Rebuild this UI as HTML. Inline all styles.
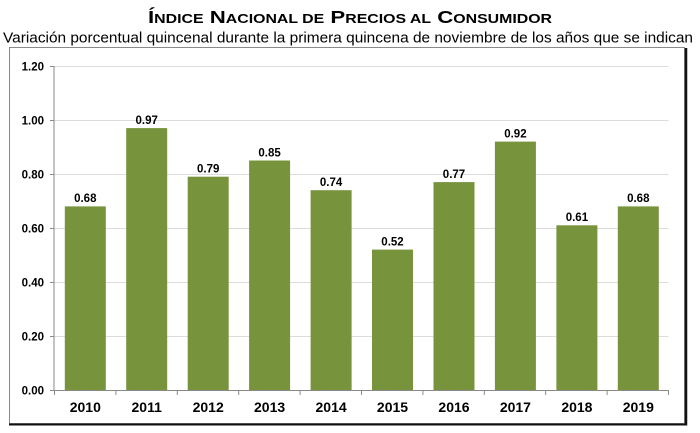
<!DOCTYPE html>
<html><head><meta charset="utf-8"><style>
html,body{margin:0;padding:0;background:#fff;}
svg{display:block;}
text{font-family:"Liberation Sans",Arial,sans-serif;fill:#000;}
</style></head><body>
<svg width="700" height="433" viewBox="0 0 700 433" xmlns="http://www.w3.org/2000/svg">
<rect x="0" y="0" width="700" height="433" fill="#fff"/>
<text x="350" y="23" text-anchor="middle" font-weight="bold" font-size="17.5" textLength="404" lengthAdjust="spacingAndGlyphs">Í<tspan font-size="12.5">NDICE</tspan> N<tspan font-size="12.5">ACIONAL DE</tspan> P<tspan font-size="12.5">RECIOS AL</tspan> C<tspan font-size="12.5">ONSUMIDOR</tspan></text>
<text x="348" y="42.5" text-anchor="middle" font-size="15.2" textLength="690" lengthAdjust="spacingAndGlyphs">Variación porcentual quincenal durante la primera quincena de noviembre de los años que se indican</text>
<!-- frame -->
<rect x="9.5" y="47.5" width="675" height="376" fill="none" stroke="#8a8a8a" stroke-width="1"/>
<line x1="686" y1="48" x2="686" y2="425.5" stroke="#111" stroke-width="2.5"/>
<line x1="9" y1="424.5" x2="687" y2="424.5" stroke="#111" stroke-width="2"/>
<!-- gridlines -->
<g stroke="#dcdcdc" stroke-width="1">
<line x1="54" y1="66.5" x2="668.5" y2="66.5"/>
<line x1="54" y1="120.5" x2="668.5" y2="120.5"/>
<line x1="54" y1="174.5" x2="668.5" y2="174.5"/>
<line x1="54" y1="228.5" x2="668.5" y2="228.5"/>
<line x1="54" y1="282.5" x2="668.5" y2="282.5"/>
<line x1="54" y1="336.5" x2="668.5" y2="336.5"/>
</g>
<!-- bars -->
<g fill="#77933c">
<rect x="64.8" y="206.4" width="41" height="183.6"/>
<rect x="126.2" y="128.1" width="41" height="261.9"/>
<rect x="187.7" y="176.7" width="41" height="213.3"/>
<rect x="249.1" y="160.5" width="41" height="229.5"/>
<rect x="310.6" y="190.2" width="41" height="199.8"/>
<rect x="372.0" y="249.6" width="41" height="140.4"/>
<rect x="433.5" y="182.1" width="41" height="207.9"/>
<rect x="494.9" y="141.6" width="41" height="248.4"/>
<rect x="556.4" y="225.3" width="41" height="164.7"/>
<rect x="617.8" y="206.4" width="41" height="183.6"/>
</g>
<!-- axes -->
<g stroke="#8a8a8a" stroke-width="1">
<line x1="54" y1="66" x2="54" y2="390.5"/>
<line x1="54" y1="390.5" x2="668.5" y2="390.5"/>
<line x1="50" y1="66.5" x2="54" y2="66.5"/>
<line x1="50" y1="120.5" x2="54" y2="120.5"/>
<line x1="50" y1="174.5" x2="54" y2="174.5"/>
<line x1="50" y1="228.5" x2="54" y2="228.5"/>
<line x1="50" y1="282.5" x2="54" y2="282.5"/>
<line x1="50" y1="336.5" x2="54" y2="336.5"/>
<line x1="50" y1="390.5" x2="54" y2="390.5"/>
<line x1="54.5" y1="390" x2="54.5" y2="395"/>
<line x1="115.9" y1="390" x2="115.9" y2="395"/>
<line x1="177.3" y1="390" x2="177.3" y2="395"/>
<line x1="238.7" y1="390" x2="238.7" y2="395"/>
<line x1="300.1" y1="390" x2="300.1" y2="395"/>
<line x1="361.5" y1="390" x2="361.5" y2="395"/>
<line x1="422.9" y1="390" x2="422.9" y2="395"/>
<line x1="484.3" y1="390" x2="484.3" y2="395"/>
<line x1="545.7" y1="390" x2="545.7" y2="395"/>
<line x1="607.1" y1="390" x2="607.1" y2="395"/>
<line x1="668.5" y1="390" x2="668.5" y2="395"/>
</g>
<!-- y labels -->
<g font-size="11.5" font-weight="bold" text-anchor="end">
<text x="44" y="70.5">1.20</text>
<text x="44" y="124.5">1.00</text>
<text x="44" y="178.5">0.80</text>
<text x="44" y="232.5">0.60</text>
<text x="44" y="286.5">0.40</text>
<text x="44" y="340.5">0.20</text>
<text x="44" y="394.5">0.00</text>
</g>
<!-- value labels -->
<g font-size="11.5" font-weight="bold" text-anchor="middle">
<text x="85.3" y="202">0.68</text>
<text x="146.7" y="124">0.97</text>
<text x="208.2" y="172.5">0.79</text>
<text x="269.6" y="156.5">0.85</text>
<text x="331.1" y="186">0.74</text>
<text x="392.5" y="245.5">0.52</text>
<text x="454.0" y="178">0.77</text>
<text x="515.4" y="137.5">0.92</text>
<text x="576.9" y="221">0.61</text>
<text x="638.3" y="202">0.68</text>
</g>
<!-- x labels -->
<g font-size="14" font-weight="bold" text-anchor="middle">
<text x="85.3" y="412">2010</text>
<text x="146.7" y="412">2011</text>
<text x="208.2" y="412">2012</text>
<text x="269.6" y="412">2013</text>
<text x="331.1" y="412">2014</text>
<text x="392.5" y="412">2015</text>
<text x="454.0" y="412">2016</text>
<text x="515.4" y="412">2017</text>
<text x="576.9" y="412">2018</text>
<text x="638.3" y="412">2019</text>
</g>
</svg>
</body></html>
